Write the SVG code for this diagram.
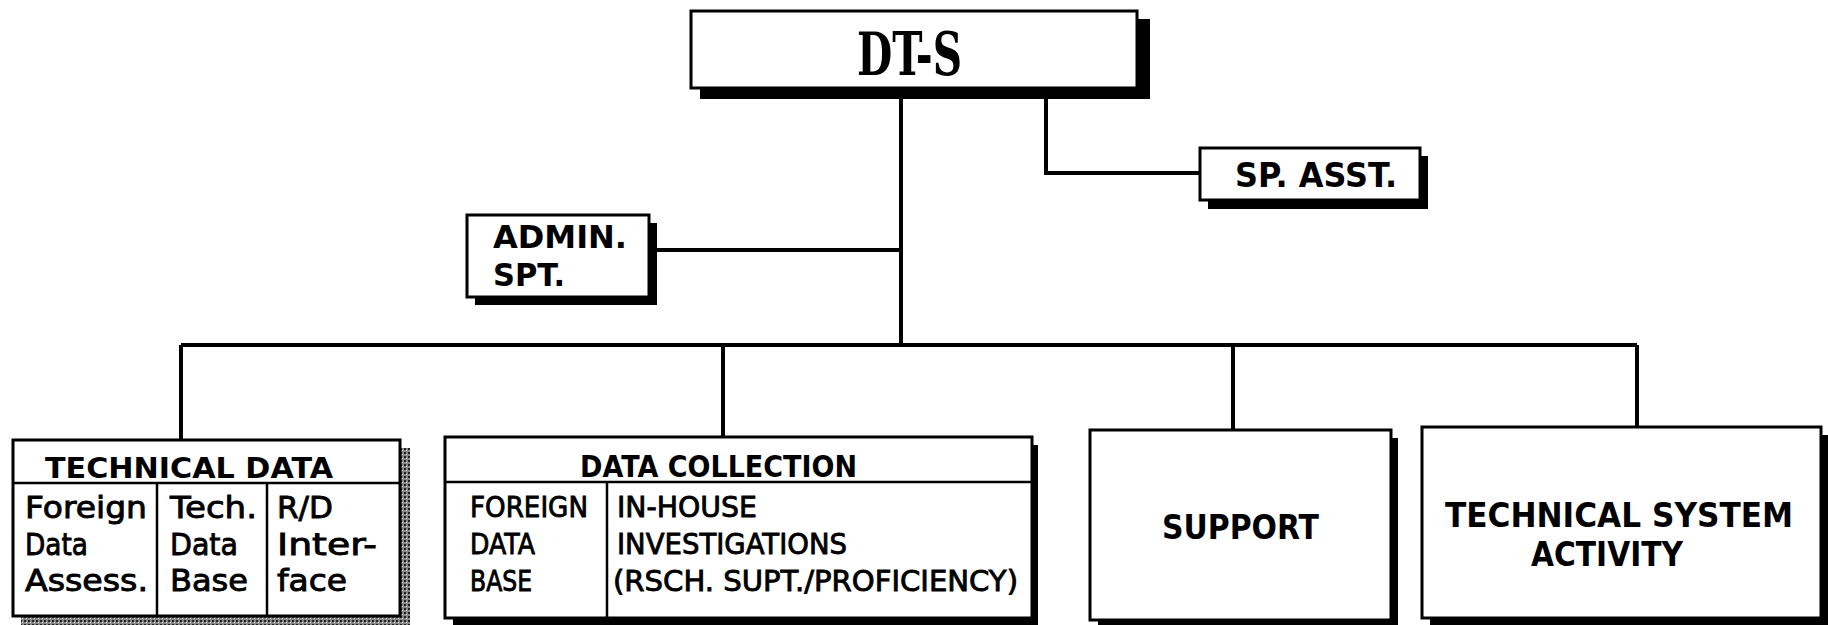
<svg xmlns="http://www.w3.org/2000/svg" width="1828" height="625" viewBox="0 0 1828 625">
<defs>
<pattern id="stip" width="4" height="4" patternUnits="userSpaceOnUse">
<rect width="4" height="4" fill="#888"/>
<rect x="0" y="0" width="2" height="2" fill="#222"/>
<rect x="2" y="2" width="1" height="1" fill="#ddd"/>
</pattern>
</defs>
<style>
.box{fill:#fff;stroke:#000;stroke-width:3}
.sh{fill:#000}
.ln{fill:none;stroke:#000;stroke-width:4}
.div{fill:none;stroke:#000;stroke-width:2.5}
.b{font-family:"DejaVu Sans","Liberation Sans",sans-serif;font-weight:bold;fill:#000}
.s{font-family:"DejaVu Serif","Liberation Serif",serif;font-weight:bold;fill:#000}
.r{font-family:"DejaVu Sans","Liberation Sans",sans-serif;font-weight:normal;fill:#000;stroke:#000;stroke-width:0.9}
</style>
<rect width="1828" height="625" fill="#fff"/>
<g id="connectors">
<path class="ln" d="M901 89 V345"/>
<path class="ln" d="M1046 89 V173 H1200"/>
<path class="ln" d="M649 250 H901"/>
<path class="ln" d="M181 345 H1637"/>
<path class="ln" d="M181 345 V440"/>
<path class="ln" d="M723 345 V437"/>
<path class="ln" d="M1233 345 V430"/>
<path class="ln" d="M1637 345 V427"/>
</g>
<g id="dts">
<rect class="sh" x="700" y="19" width="450" height="80"/>
<rect class="box" x="691" y="11" width="446" height="77"/>
<text class="s" x="857" y="75" font-size="60" textLength="105" lengthAdjust="spacingAndGlyphs">DT-S</text>
</g>
<g id="spasst">
<rect class="sh" x="1208" y="156" width="220" height="53"/>
<rect class="box" x="1200" y="148" width="220" height="52"/>
<text class="b" x="1235" y="187" font-size="33" textLength="162" lengthAdjust="spacingAndGlyphs">SP. ASST.</text>
</g>
<g id="admin">
<rect class="sh" x="475" y="223" width="182" height="82"/>
<rect class="box" x="467" y="215" width="182" height="82"/>
<text class="b" x="493" y="248" font-size="32" textLength="134" lengthAdjust="spacingAndGlyphs">ADMIN.</text>
<text class="b" x="493" y="286" font-size="32" textLength="72" lengthAdjust="spacingAndGlyphs">SPT.</text>
</g>
<g id="techdata">
<rect x="21" y="448" width="389" height="177" fill="url(#stip)"/>
<rect class="box" x="13" y="440" width="387" height="176"/>
<path class="div" d="M13 483 H400 M157 483 V616 M267 483 V616"/>
<text class="b" x="45" y="478" font-size="29" textLength="288" lengthAdjust="spacingAndGlyphs">TECHNICAL DATA</text>
<text class="r" x="25" y="518" font-size="31" textLength="122" lengthAdjust="spacingAndGlyphs">Foreign</text>
<text class="r" x="25" y="555" font-size="31" textLength="63" lengthAdjust="spacingAndGlyphs">Data</text>
<text class="r" x="25" y="591" font-size="31" textLength="123" lengthAdjust="spacingAndGlyphs">Assess.</text>
<text class="r" x="170" y="518" font-size="31" textLength="87" lengthAdjust="spacingAndGlyphs">Tech.</text>
<text class="r" x="170" y="555" font-size="31" textLength="68" lengthAdjust="spacingAndGlyphs">Data</text>
<text class="r" x="170" y="591" font-size="31" textLength="78" lengthAdjust="spacingAndGlyphs">Base</text>
<text class="r" x="277" y="518" font-size="31" textLength="56" lengthAdjust="spacingAndGlyphs">R/D</text>
<text class="r" x="277" y="555" font-size="31" textLength="100" lengthAdjust="spacingAndGlyphs">Inter-</text>
<text class="r" x="277" y="591" font-size="31" textLength="70" lengthAdjust="spacingAndGlyphs">face</text>
</g>
<g id="datacoll">
<rect class="sh" x="453" y="445" width="585" height="180"/>
<rect class="box" x="445" y="437" width="587" height="181"/>
<path class="div" d="M445 482 H1032 M607 482 V618"/>
<text class="b" x="580" y="477" font-size="30" textLength="277" lengthAdjust="spacingAndGlyphs">DATA COLLECTION</text>
<text class="r" x="470" y="517" font-size="29" textLength="118" lengthAdjust="spacingAndGlyphs">FOREIGN</text>
<text class="r" x="470" y="554" font-size="29" textLength="65" lengthAdjust="spacingAndGlyphs">DATA</text>
<text class="r" x="470" y="591" font-size="29" textLength="62" lengthAdjust="spacingAndGlyphs">BASE</text>
<text class="r" x="617" y="517" font-size="29" textLength="140" lengthAdjust="spacingAndGlyphs">IN-HOUSE</text>
<text class="r" x="617" y="554" font-size="29" textLength="230" lengthAdjust="spacingAndGlyphs">INVESTIGATIONS</text>
<text class="r" x="613" y="591" font-size="29" textLength="405" lengthAdjust="spacingAndGlyphs">(RSCH. SUPT./PROFICIENCY)</text>
</g>
<g id="support">
<rect class="sh" x="1098" y="438" width="300" height="187"/>
<rect class="box" x="1090" y="430" width="301" height="190"/>
<text class="b" x="1162" y="539" font-size="34" textLength="157" lengthAdjust="spacingAndGlyphs">SUPPORT</text>
</g>
<g id="tsa">
<rect class="sh" x="1430" y="435" width="398" height="190"/>
<rect class="box" x="1422" y="427" width="399" height="191"/>
<text class="b" x="1445" y="527" font-size="34" textLength="348" lengthAdjust="spacingAndGlyphs">TECHNICAL SYSTEM</text>
<text class="b" x="1531" y="566" font-size="34" textLength="152" lengthAdjust="spacingAndGlyphs">ACTIVITY</text>
</g>
</svg>
